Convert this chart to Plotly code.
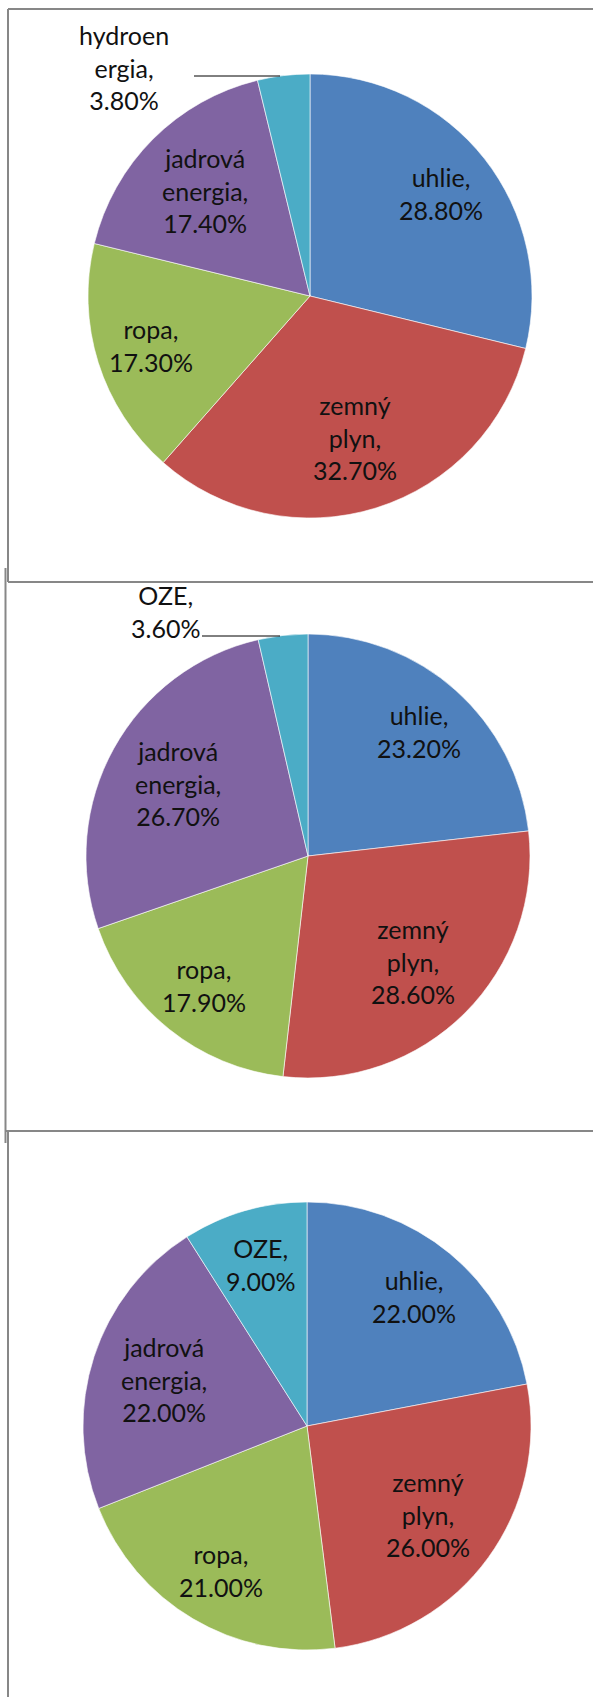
import math
import plotly.graph_objects as go

W, H = 593, 1697

# data
categories_1 = ["uhlie", "zemný plyn", "ropa", "jadrová energia", "hydroenergia"]
label_text_1 = ["uhlie,", "zemný<br>plyn,", "ropa,", "jadrová<br>energia,", "hydroen<br>ergia,"]
values_1 = [28.8, 32.7, 17.3, 17.4, 3.8]

categories_2 = ["uhlie", "zemný plyn", "ropa", "jadrová energia", "OZE"]
label_text_2 = ["uhlie,", "zemný<br>plyn,", "ropa,", "jadrová<br>energia,", "OZE,"]
values_2 = [23.2, 28.6, 17.9, 26.7, 3.6]

categories_3 = ["uhlie", "zemný plyn", "ropa", "jadrová energia", "OZE"]
label_text_3 = ["uhlie,", "zemný<br>plyn,", "ropa,", "jadrová<br>energia,", "OZE,"]
values_3 = [22.0, 26.0, 21.0, 22.0, 9.0]

colors = ["#4F81BD", "#C0504D", "#9BBB59", "#8064A2", "#4BACC6"]

FONT = dict(family="Lato, Open Sans, sans-serif", size=25, color="#111111")
BORDER = "#878787"


def px_x(x):
    return x / W


def px_y(y):
    return 1 - y / H


def add_pie(fig, cats, texts, vals, cx, cy, r, outside=None):
    """1つの円グラフとラベルを追加"""
    fig.add_trace(
        go.Pie(
            labels=cats,
            values=vals,
            sort=False,
            direction="clockwise",
            rotation=0,
            textinfo="none",
            marker=dict(colors=colors, line=dict(color="white", width=0.6)),
            domain=dict(x=[px_x(cx - r), px_x(cx + r)],
                        y=[px_y(cy + r), px_y(cy - r)]),
            showlegend=False,
        )
    )

    total = sum(vals)
    start = 0.0
    for txt, v in zip(texts, vals):
        mid = (start + v / 2) / total * 2 * math.pi
        start += v
        label = f"{txt}<br>{v:.2f}%"
        if v < 5 and outside is not None:
            lx, ly, line_x0, line_x1, line_y = outside
            fig.add_shape(type="line", xref="paper", yref="paper",
                          x0=px_x(line_x0), x1=px_x(line_x1),
                          y0=px_y(line_y), y1=px_y(line_y),
                          line=dict(color="black", width=1))
        else:
            k = 0.67 if txt.count("<br>") else 0.75
            lx = cx + k * r * math.sin(mid)
            ly = cy - k * r * math.cos(mid)
        fig.add_annotation(x=px_x(lx), y=px_y(ly), xref="paper", yref="paper",
                           text=label, showarrow=False, align="center",
                           xanchor="center", yanchor="middle", font=FONT)


fig = go.Figure()

add_pie(fig, categories_1, label_text_1, values_1, 310, 296, 222,
        outside=(124, 67, 194, 280, 76))
add_pie(fig, categories_2, label_text_2, values_2, 308, 856, 222,
        outside=(165, 611, 202, 280, 636))
add_pie(fig, categories_3, label_text_3, values_3, 307, 1426, 224)

# rámčeky okolo grafov
frame_lines = [
    (8, 9, 8, 582), (8, 9, 620, 9), (8, 582, 620, 582),
    (5.5, 568, 5.5, 1143), (5.5, 1131, 620, 1131),
    (8, 1131, 8, 1720),
]
for x0, y0, x1, y1 in frame_lines:
    fig.add_shape(type="line", xref="paper", yref="paper",
                  x0=px_x(x0), y0=px_y(y0), x1=px_x(x1), y1=px_y(y1),
                  line=dict(color=BORDER, width=2))

fig.update_layout(
    width=W,
    height=H,
    margin=dict(l=0, r=0, t=0, b=0),
    paper_bgcolor="white",
    plot_bgcolor="white",
)

fig.write_html("out.html", config={"displayModeBar": False},
               post_script="document.body.style.margin='0';")
